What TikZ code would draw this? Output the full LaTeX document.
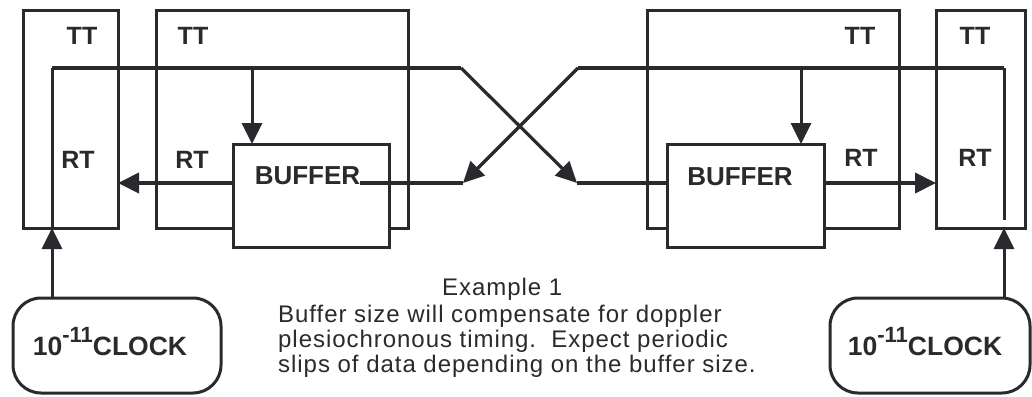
\documentclass[tikz,border=0pt]{standalone}
\usepackage{fontspec}
\setmainfont{Liberation Sans}
\newfontfamily\descfont[LetterSpace=4]{Liberation Sans}
\usetikzlibrary{arrows.meta}
\definecolor{ink}{RGB}{40,42,46}
\begin{document}
\begin{tikzpicture}[x=1pt,y=-1pt,
  boxst/.style={draw=ink, line width=3pt, inner sep=0pt, outer sep=0pt},
  bufst/.style={boxst, fill=white},
  clockst/.style={boxst, rounded corners=28pt},
  wire/.style={draw=ink, line width=4pt},
  thinwire/.style={draw=ink, line width=3pt},
  diag/.style={draw=ink, line width=3.2pt, -{Triangle[length=21pt,width=20pt]}},
  arr/.style={draw=ink, line width=4pt, -{Triangle[length=21pt,width=20pt]}},
  varr/.style={draw=ink, line width=3pt, -{Triangle[length=21pt,width=20pt]}},
  lbl/.style={text=ink, inner sep=0pt, font=\fontsize{25}{25}\selectfont\bfseries},
  buftxt/.style={text=ink, inner sep=0pt, font=\fontsize{26}{26}\selectfont\bfseries},
  clocktxt/.style={text=ink, inner sep=0pt, anchor=base, font=\fontsize{26.5}{27}\selectfont\bfseries},
  desc/.style={text=ink, inner sep=0pt, anchor=base west, font=\descfont\fontsize{24}{25}\selectfont},
]
\useasboundingbox[fill=white] (0,0) rectangle (1032,396);

% frames
\node[boxst, minimum width=95pt, minimum height=217pt] (LO) at (70.5,119.5) {};
\node[boxst, minimum width=252pt, minimum height=217pt] (LB) at (282,119.5) {};
\node[boxst, minimum width=252pt, minimum height=217pt] (RB) at (773,119.5) {};
\node[boxst, minimum width=89pt, minimum height=217pt] (RO) at (980.5,119.5) {};

% buffers
\node[bufst, minimum width=156pt, minimum height=103pt] (LBUF) at (311,195.5) {};
\node[bufst, minimum width=157pt, minimum height=103pt] (RBUF) at (745.5,195.5) {};

% clocks
\node[clockst, minimum width=208pt, minimum height=95pt] (LC) at (117,345.5) {};
\node[clockst, minimum width=200pt, minimum height=95pt] (RC) at (930,345.5) {};

% labels
\node[lbl] (LOtt) at (82,36) {TT};
\node[lbl] (LOrt) at (78,160) {RT};
\node[lbl] (LBtt) at (193,36) {TT};
\node[lbl] (LBrt) at (192,160) {RT};
\node[lbl] (RBtt) at (860,36) {TT};
\node[lbl] (RBrt) at (861,158) {RT};
\node[lbl] (ROtt) at (975,36) {TT};
\node[lbl] (ROrt) at (975,158) {RT};
\node[buftxt] (LBt) at (307.5,176) {BUFFER};
\node[buftxt] (RBt) at (740,177) {BUFFER};
\node[clocktxt] (LCt) at (110,355) {10\raisebox{13pt}{\fontsize{22}{22}\selectfont -11}CLOCK};
\node[clocktxt] (RCt) at (925,355) {10\raisebox{13pt}{\fontsize{22}{22}\selectfont -11}CLOCK};

% wiring points
\coordinate (lv) at (52,68);
\coordinate (lx1) at (461,68);
\coordinate (lx2) at (577,183);
\coordinate (ld) at (252,68);
\coordinate (rv) at (1004,68);
\coordinate (rvend) at (1004,220);
\coordinate (rx1) at (578,68);
\coordinate (rx2) at (463,183);
\coordinate (rd) at (801,68);

% left transmit path
\draw[thinwire] (lv |- LO.south) -- (lv);
\draw[wire] (lv) -- (lx1);
\draw[diag] (lx1) -- (lx2);
\draw[wire] (lx2) -- (lx2 -| RBUF.west);
\draw[varr] (ld) -- (ld |- LBUF.north);
\draw[arr] (rx2 -| LBUF.west) -- (rx2 -| LO.east);
\draw[varr] (lv |- LC.north) -- (lv |- LO.south);

% right transmit path
\draw[thinwire] (rvend) -- (rv);
\draw[wire] (rv) -- (rx1);
\draw[diag] (rx1) -- (rx2);
\draw[wire] (rx2) -- (rx2 -| LBt.east);
\draw[varr] (rd) -- (rd |- RBUF.north);
\draw[arr] (lx2 -| RBUF.east) -- (lx2 -| RO.west);
\draw[varr] (rv |- RC.north) -- (rv |- RO.south);

% caption
\node[desc] (ex) at (442,295) {Example 1};
\node[desc] (d1) at (278,322) {Buffer size will compensate for doppler};
\node[desc] (d2) at (278,347) {plesiochronous timing.\ \ Expect periodic};
\node[desc] (d3) at (278,372) {slips of data depending on the buffer size.};
\end{tikzpicture}
\end{document}
